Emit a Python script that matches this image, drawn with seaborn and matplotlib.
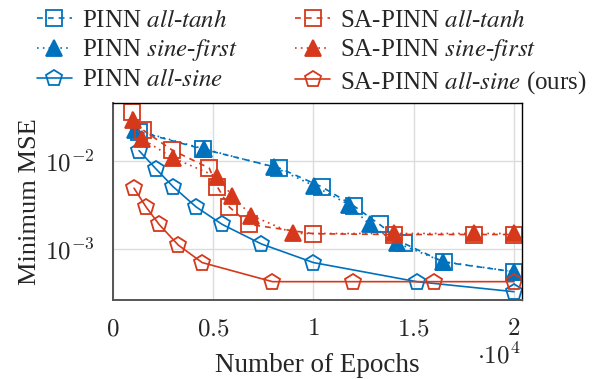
import numpy as np
import pandas as pd
import matplotlib
matplotlib.use('Agg')
import matplotlib.pyplot as plt
import seaborn as sns
from matplotlib.ticker import FixedLocator, NullLocator, FuncFormatter

sns.set_theme(style='white')
plt.rcParams['font.family'] = ['Liberation Serif', 'DejaVu Serif']
plt.rcParams['mathtext.fontset'] = 'cm'

# data (epochs, minimum MSE)
pinn_tanh_x = [1300, 4500, 8300, 10400, 12000, 13300, 14500, 16500, 20000]
pinn_tanh_y = [0.0215, 0.0136, 0.0083, 0.0051, 0.0031, 0.0019, 0.00116, 0.00071, 0.00055]

pinn_sf_x = [1100, 4550, 8050, 10050, 11750, 12800, 14150, 16450, 20000]
pinn_sf_y = [0.0225, 0.0137, 0.0085, 0.0052, 0.0032, 0.0019, 0.00117, 0.00072, 0.00055]

pinn_sine_x = [1300, 2150, 3000, 4150, 5450, 7400, 10000, 15150, 20000]
pinn_sine_y = [0.0131, 0.0081, 0.0051, 0.0030, 0.0019, 0.00114, 0.00070, 0.000425, 0.000327]

sa_tanh_x = [950, 1500, 2950, 4800, 5200, 5800, 6800, 10000, 14000, 18000, 20000]
sa_tanh_y = [0.0363, 0.0225, 0.0133, 0.0083, 0.0051, 0.0030, 0.0019, 0.00149, 0.00146, 0.00146, 0.00146]

sa_sf_x = [1000, 1450, 3000, 5200, 5950, 6900, 9000, 14000, 18000, 20000]
sa_sf_y = [0.0292, 0.0178, 0.0108, 0.0066, 0.0040, 0.0024, 0.0015, 0.0015, 0.0015, 0.0015]

sa_sine_x = [1050, 1650, 2300, 3250, 4450, 7950, 11950, 16000, 20000]
sa_sine_y = [0.0049, 0.0030, 0.0019, 0.00111, 0.00070, 0.000425, 0.000425, 0.000425, 0.000425]

labels = [r'PINN $\mathit{all}$-$\mathit{tanh}$',
          r'PINN $\mathit{sine}$-$\mathit{first}$',
          r'PINN $\mathit{all}$-$\mathit{sine}$',
          r'SA-PINN $\mathit{all}$-$\mathit{tanh}$',
          r'SA-PINN $\mathit{sine}$-$\mathit{first}$',
          r'SA-PINN $\mathit{all}$-$\mathit{sine}$ (ours)']

blue = '#0072BD'
red = '#D5381A'
dashed = (0, (3.5, 3))
dotted = (0, (1, 2.5))

series = [
    (pinn_tanh_x, pinn_tanh_y, blue, 's', dashed, False, 12),
    (pinn_sf_x, pinn_sf_y, blue, '^', dotted, True, 11),
    (pinn_sine_x, pinn_sine_y, blue, 'p', '-', False, 12),
    (sa_tanh_x, sa_tanh_y, red, 's', dashed, False, 12),
    (sa_sf_x, sa_sf_y, red, '^', dotted, True, 11),
    (sa_sine_x, sa_sine_y, red, 'p', '-', False, 12),
]

fig = plt.figure(figsize=(6, 3.79), dpi=100)
ax = fig.add_axes([113 / 600, 1 - 300 / 379, 409 / 600, 197 / 379])

for (xs, ys, col, mk, ls, filled, ms), lab in zip(series, labels):
    df = pd.DataFrame({'epochs': xs, 'mse': ys})
    sns.lineplot(data=df, x='epochs', y='mse', ax=ax, color=col, marker=mk,
                 linestyle=ls, linewidth=1.2, markersize=ms,
                 markerfacecolor=col if filled else 'none',
                 markeredgecolor=col, markeredgewidth=1.3,
                 label=lab, clip_on=False)

if ax.get_legend() is not None:
    ax.get_legend().remove()

ax.set_yscale('log')
ax.set_xlim(0, 20400)
ax.set_ylim(2.63e-4, 0.0456)
ax.xaxis.set_major_locator(FixedLocator([0, 5000, 10000, 15000, 20000]))
ax.xaxis.set_major_formatter(FuncFormatter(lambda v, p: '$%g$' % (v / 1e4)))
ax.yaxis.set_major_locator(FixedLocator([1e-3, 1e-2]))
ax.yaxis.set_minor_locator(NullLocator())
ax.yaxis.set_major_formatter(FuncFormatter(lambda v, p: r'$10^{%d}$' % round(np.log10(v))))

ax.grid(True, which='major', color='#dcdcdc', linewidth=1.0)
ax.set_axisbelow(True)
ax.tick_params(axis='both', which='major', direction='out', length=7,
               width=0.9, color='#888888', labelsize=18, pad=6)
for side in ['left', 'bottom']:
    ax.spines[side].set_color('#555555')
    ax.spines[side].set_linewidth(1.4)
for side in ['top', 'right']:
    ax.spines[side].set_color('black')
    ax.spines[side].set_linewidth(1.0)

ax.set_xlabel('Number of Epochs', fontsize=19.5, labelpad=9)
ax.set_ylabel('Minimum MSE', fontsize=19, labelpad=3)
fig.text(520 / 600, 1 - 356 / 379, r'$\cdot 10^{4}$', fontsize=18,
         ha='right', va='center')

handles, labs = ax.get_legend_handles_labels()
leg = fig.legend(handles, labs, loc='upper left', bbox_to_anchor=(0.036, 1.015),
                 ncol=2, frameon=False, fontsize=18, handlelength=1.4,
                 handletextpad=0.4, columnspacing=2.3, labelspacing=0.22,
                 borderpad=0.1)
for t in leg.get_texts():
    t.set_math_fontfamily('stix')

fig.savefig('out.png', dpi=100)
